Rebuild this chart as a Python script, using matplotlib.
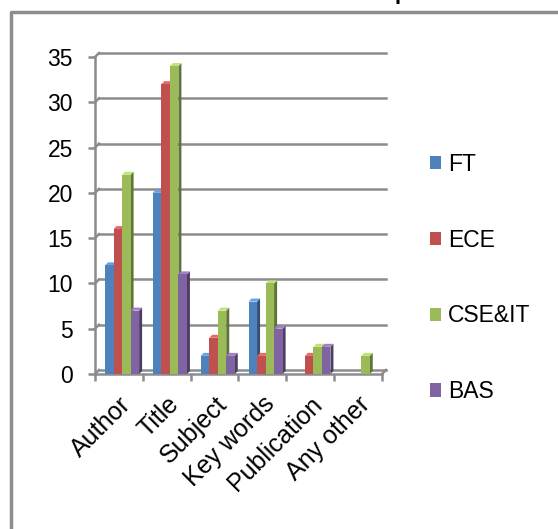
import numpy as np
import matplotlib.pyplot as plt
from matplotlib.patches import Polygon, Patch
from matplotlib.lines import Line2D
import matplotlib.colors as mcolors

plt.rcParams['font.family'] = ['Liberation Sans', 'DejaVu Sans']

categories = ['Author', 'Title', 'Subject', 'Key words', 'Publication', 'Any other']
series = ['FT', 'ECE', 'CSE&IT', 'BAS']
ft = [12, 20, 2, 8, 0, 0]
ece = [16, 32, 4, 2, 2, 0]
cse_it = [22, 34, 7, 10, 3, 2]
bas = [7, 11, 2, 5, 3, 0]
colors = ['#4F81BD', '#C0504D', '#9BBB59', '#8064A2']

fs = 16.5

fig = plt.figure(figsize=(5.58, 5.29), dpi=100, facecolor='white')
ax = fig.add_axes([95 / 558, 1 - 374 / 529, 287 / 558, 317 / 529])
ax.set_xlim(-0.5, 5.5)
ax.set_ylim(0, 35)

grid_c = '#8C8C8C'
# depth of the pseudo-3D wall / floor in data units
dx, dy = 4 / 47.83, 4 / 9.057

for v in range(0, 40, 5):
    ax.plot([-0.5 + dx, 5.5 + dx], [v + dy, v + dy], color=grid_c, lw=1.8,
            clip_on=False, zorder=1)
    ax.plot([-0.5, -0.5 + dx], [v, v + dy], color=grid_c, lw=1.8,
            clip_on=False, zorder=1)
ax.plot([5.5, 5.5 + dx], [0, dy], color=grid_c, lw=1.8, clip_on=False, zorder=1)

# clustered columns with a shaded top and side
bw = 0.178
side_dx, side_dy = 3 / 47.83, 3 / 9.057
for j, vals in enumerate([ft, ece, cse_it, bas]):
    base = np.array(mcolors.to_rgb(colors[j]))
    dark = tuple(base * 0.62)
    light = tuple(np.clip(base * 1.15 + 0.05, 0, 1))
    for i, h in enumerate(vals):
        if h == 0:
            continue
        x0 = i - 0.5 + 0.21 + j * bw
        x1 = x0 + bw
        ax.add_patch(Polygon([(x1, 0), (x1 + side_dx, side_dy),
                              (x1 + side_dx, h + side_dy), (x1, h)],
                             closed=True, facecolor=dark, edgecolor='none',
                             zorder=3, clip_on=False))
        ax.add_patch(Polygon([(x0, h), (x1, h), (x1 + side_dx, h + side_dy),
                              (x0 + side_dx, h + side_dy)],
                             closed=True, facecolor=light, edgecolor='none',
                             zorder=3, clip_on=False))
        ax.bar(x0, h, width=bw, align='edge', color=colors[j], zorder=4)

for s in ['top', 'right']:
    ax.spines[s].set_visible(False)
for s in ['left', 'bottom']:
    ax.spines[s].set_color(grid_c)
    ax.spines[s].set_linewidth(1.8)

ax.set_yticks(range(0, 40, 5))
ax.set_xticks(np.arange(-0.5, 6, 1))
ax.set_xticklabels([])
ax.set_xticks(range(len(categories)), minor=True)
ax.set_xticklabels(categories, minor=True, rotation=45, ha='right',
                   rotation_mode='anchor', fontsize=18)
ax.tick_params(axis='x', which='minor', length=0, pad=13)
ax.tick_params(axis='both', which='major', color=grid_c, width=1.8,
               length=5, labelsize=fs)
ax.tick_params(axis='y', pad=11)

handles = [Patch(facecolor=c, edgecolor='none') for c in colors]
fig.legend(handles, series, loc='upper left',
           bbox_to_anchor=(430 / 558, 1 - 153 / 529), frameon=False,
           fontsize=fs, labelspacing=2.3, handlelength=0.5,
           handleheight=0.5, handletextpad=0.28, borderpad=0,
           borderaxespad=0)

# outer chart border
fig.add_artist(Line2D([11 / 558, 11 / 558, 1.0], [0.0, 1 - 12 / 529, 1 - 12 / 529],
                      color='#8C8C8C', lw=2.5, transform=fig.transFigure))

# title sitting above the visible area
fig.text(394.5 / 558, 1 + 0.5 / 529, 'p', fontsize=16, fontweight='bold',
         ha='left', va='baseline')

fig.savefig('out.png', dpi=100, facecolor='white')
